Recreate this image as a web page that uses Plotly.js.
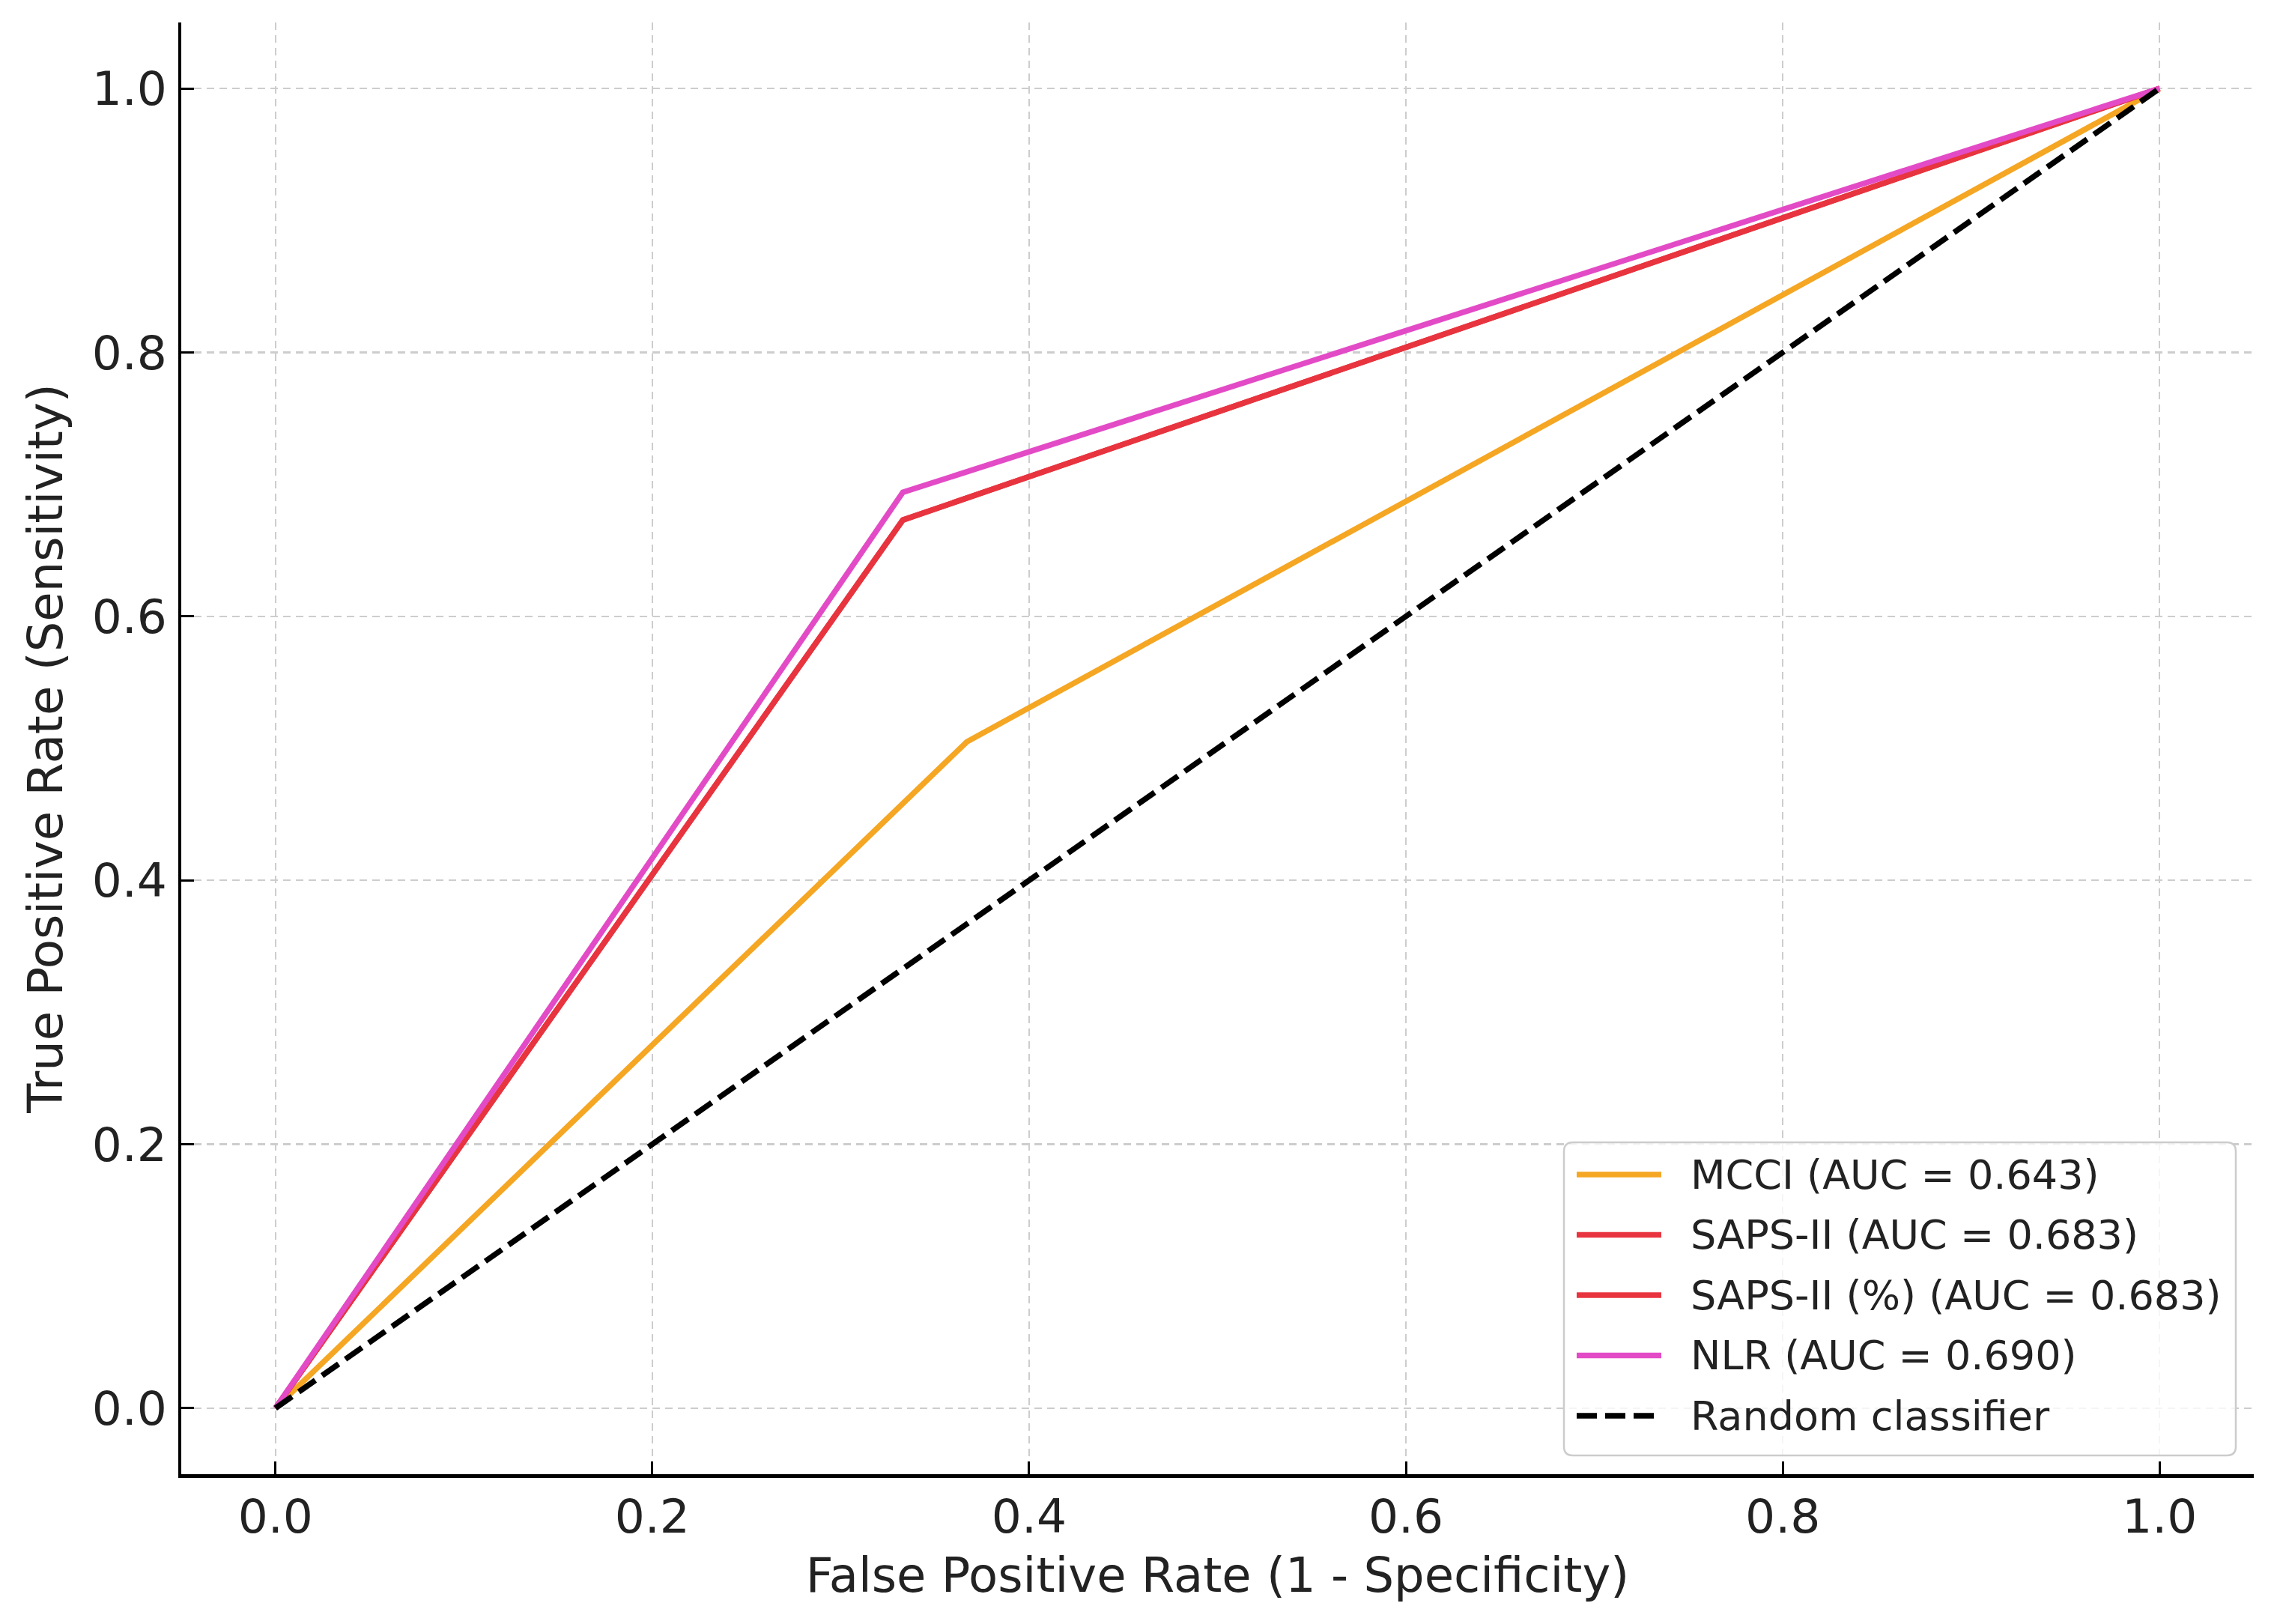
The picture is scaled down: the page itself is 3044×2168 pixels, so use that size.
<!DOCTYPE html>
<html>
<head>
<meta charset="utf-8">
<script src="https://cdn.plot.ly/plotly-3.0.1.min.js"></script>
<style>html,body{margin:0;padding:0;background:#fff;}#chart{width:3044px;height:2168px;}</style>
</head>
<body>
<div id="chart"></div>
<script>
// ---- data ----
const seriesNames = ["MCCI (AUC = 0.643)", "SAPS-II (AUC = 0.683)", "SAPS-II (%) (AUC = 0.683)", "NLR (AUC = 0.690)"];
const fprMCCI = [0, 0.367, 1];
const tprMCCI = [0, 0.505, 1];
const fprSAPS = [0, 0.333, 1];
const tprSAPS = [0, 0.673, 1];
const fprSAPSpct = [0, 0.333, 1];
const tprSAPSpct = [0, 0.673, 1];
const fprNLR = [0, 0.333, 1];
const tprNLR = [0, 0.694, 1];
const randomName = "Random classifier";
const fprRandom = [0, 1];
const tprRandom = [0, 1];
const tickVals = [0, 0.2, 0.4, 0.6, 0.8, 1.0];
const tickText = ["0.0", "0.2", "0.4", "0.6", "0.8", "1.0"];

// ---- style ----
const colors = ["#f5a623", "#e8343f", "#e8343f", "#e34bc6"];
const LW = 7.5;
const DASH = "27px,11px";
const FONT = "DejaVu Sans";
const textColor = "#222222";

const xs = [fprMCCI, fprSAPS, fprSAPSpct, fprNLR];
const ys = [tprMCCI, tprSAPS, tprSAPSpct, tprNLR];

const traces = xs.map((x, i) => ({
  x: x, y: ys[i], type: "scatter", mode: "lines", name: seriesNames[i],
  line: {color: colors[i], width: LW}, showlegend: false, hoverinfo: "skip"
}));
traces.push({
  x: fprRandom, y: tprRandom, type: "scatter", mode: "lines", name: randomName,
  line: {color: "#000000", width: LW, dash: DASH}, showlegend: false, hoverinfo: "skip"
});

// ---- custom legend (matplotlib-like) ----
const W = 3044, H = 2168;
const M = {l: 242, r: 35, t: 30, b: 200};
const pw = W - M.l - M.r, ph = H - M.t - M.b;
const px2x = p => (p - M.l) / pw;
const px2y = p => (H - M.b - p) / ph;

const box = {x0: px2x(2088), x1: px2x(2985), y0: px2y(1943), y1: px2y(1525)};
const rx = 12 / pw, ry = 12 / ph;
const boxPath = `M ${box.x0 + rx},${box.y0} L ${box.x1 - rx},${box.y0} Q ${box.x1},${box.y0} ${box.x1},${box.y0 + ry} ` +
  `L ${box.x1},${box.y1 - ry} Q ${box.x1},${box.y1} ${box.x1 - rx},${box.y1} L ${box.x0 + rx},${box.y1} ` +
  `Q ${box.x0},${box.y1} ${box.x0},${box.y1 - ry} L ${box.x0},${box.y0 + ry} Q ${box.x0},${box.y0} ${box.x0 + rx},${box.y0} Z`;

const shapes = [{
  type: "path", xref: "paper", yref: "paper", path: boxPath,
  fillcolor: "rgba(255,255,255,0.8)", line: {color: "#cccccc", width: 2.5}, layer: "above"
}];
const annotations = [];
const legendNames = seriesNames.concat([randomName]);
const legendColors = colors.concat(["#000000"]);
const rowPx0 = 1568, rowStep = 80.5;
legendNames.forEach((nm, i) => {
  const yy = px2y(rowPx0 + i * rowStep);
  shapes.push({
    type: "line", xref: "paper", yref: "paper", x0: px2x(2105), x1: px2x(2218), y0: yy, y1: yy,
    line: {color: legendColors[i], width: LW, dash: i === 4 ? DASH : "solid"}, layer: "above"
  });
  annotations.push({
    xref: "paper", yref: "paper", x: px2x(2255), y: yy, xanchor: "left", yanchor: "middle",
    text: nm, showarrow: false, font: {family: FONT, size: 54, color: textColor}
  });
});

const axisCommon = {
  range: [-0.05, 1.05], tickvals: tickVals, ticktext: tickText,
  showline: true, linecolor: "#000000", linewidth: 4.5, mirror: false,
  ticks: "inside", ticklen: 17, tickwidth: 3, tickcolor: "#000000",
  showgrid: true, gridcolor: "#cdcdcd", gridwidth: 2.5, griddash: "10px,7px",
  zeroline: false, automargin: false,
  tickfont: {family: FONT, size: 63, color: textColor}
};

const layout = {
  width: W, height: H, margin: M,
  paper_bgcolor: "#ffffff", plot_bgcolor: "#ffffff",
  showlegend: false,
  xaxis: Object.assign({}, axisCommon, {
    ticklabelstandoff: -2,
    title: {text: "False Positive Rate (1 - Specificity)", font: {family: FONT, size: 64, color: textColor}, standoff: 21}
  }),
  yaxis: Object.assign({}, axisCommon, {
    ticklabelstandoff: 2,
    title: {text: "True Positive Rate (Sensitivity)", font: {family: FONT, size: 64, color: textColor}, standoff: 20}
  }),
  shapes: shapes, annotations: annotations
};

Plotly.newPlot("chart", traces, layout, {staticPlot: true, displayModeBar: false});
</script>
</body>
</html>
